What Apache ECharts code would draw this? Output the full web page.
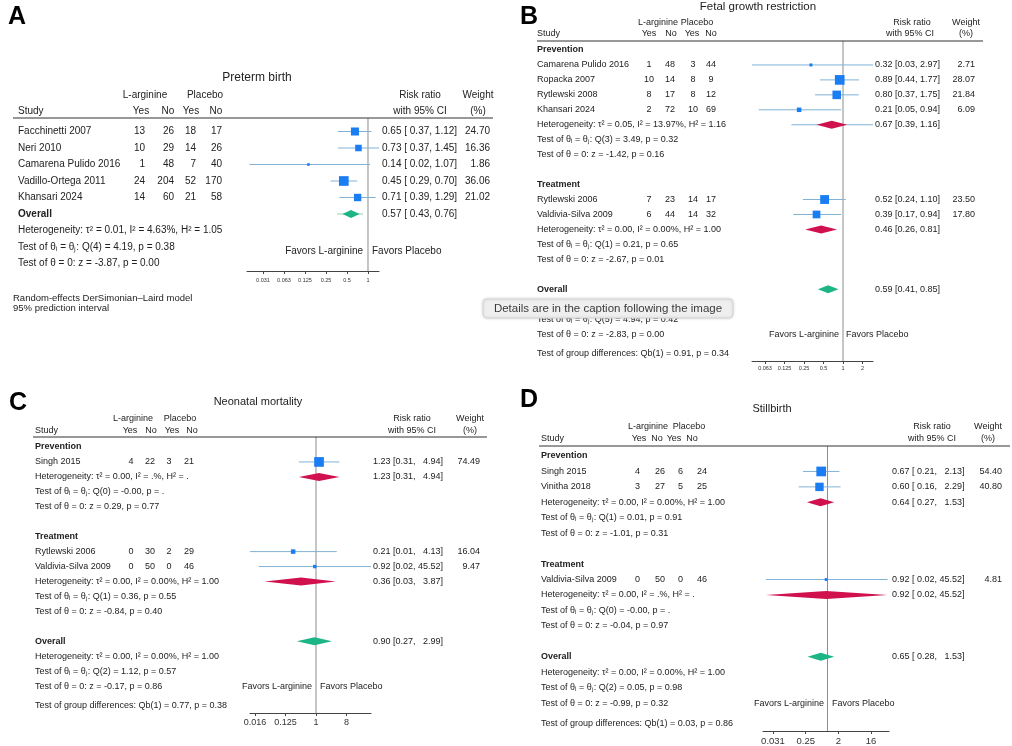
<!DOCTYPE html>
<html><head><meta charset="utf-8">
<script src="https://cdn.jsdelivr.net/npm/echarts/dist/echarts.min.js"></script>
<style>html,body{margin:0;padding:0;background:#fff}#c{width:1012px;height:746px}</style>
</head><body><div id="c"></div><script>
// ---------- Panel A: Preterm birth ----------
const studiesA = ['Facchinetti 2007','Neri 2010','Camarena Pulido 2016','Vadillo-Ortega 2011','Khansari 2024'];
const argYesA = [13,10,1,24,14];
const argNoA  = [26,29,48,204,60];
const plaYesA = [18,14,7,52,21];
const plaNoA  = [17,26,40,170,58];
const rrA = [0.65,0.73,0.14,0.45,0.71];
const loA = [0.37,0.37,0.02,0.29,0.39];
const hiA = [1.12,1.45,1.07,0.70,1.29];
const wA  = [24.70,16.36,1.86,36.06,21.02];
const overallA = [0.57,0.43,0.76];
const overallPiA = [0.36,0.85];
const overallStatsA = ['Heterogeneity: τ² = 0.01, I² = 4.63%, H² = 1.05','Test of θᵢ = θⱼ: Q(4) = 4.19, p = 0.38','Test of θ = 0: z = -3.87, p = 0.00'];
const tickValsA = [0.03125,0.0625,0.125,0.25,0.5,1];
const tickLabsA = ['0.031','0.063','0.125','0.25','0.5','1'];

// ---------- Panel B: Fetal growth restriction ----------
const groupNames = ['Prevention','Treatment'];
const studiesB = ['Camarena Pulido 2016','Ropacka 2007','Rytlewski 2008','Khansari 2024','Rytlewski 2006','Valdivia-Silva 2009'];
const groupB  = [0,0,0,0,1,1];
const argYesB = [1,10,8,2,7,6];
const argNoB  = [48,14,17,72,23,44];
const plaYesB = [3,8,8,10,14,14];
const plaNoB  = [44,9,12,69,17,32];
const rrB = [0.32,0.89,0.80,0.21,0.52,0.39];
const loB = [0.03,0.44,0.37,0.05,0.24,0.17];
const hiB = [2.97,1.77,1.75,0.94,1.10,0.94];
const wB  = [2.71,28.07,21.84,6.09,23.50,17.80];
const subRrB = [0.67,0.46];
const subLoB = [0.39,0.26];
const subHiB = [1.16,0.81];
const subPiLoB = [0.16,null];
const subPiHiB = [3.2,null];
const subHetB = ['Heterogeneity: τ² = 0.05, I² = 13.97%, H² = 1.16','Heterogeneity: τ² = 0.00, I² = 0.00%, H² = 1.00'];
const subQB = ['Test of θᵢ = θⱼ: Q(3) = 3.49, p = 0.32','Test of θᵢ = θⱼ: Q(1) = 0.21, p = 0.65'];
const subZB = ['Test of θ = 0: z = -1.42, p = 0.16','Test of θ = 0: z = -2.67, p = 0.01'];
const overallB = [0.59,0.41,0.85];
const overallStatsB = ['Heterogeneity: τ² = 0.00, I² = 0.00%, H² = 1.00','Test of θᵢ = θⱼ: Q(5) = 4.94, p = 0.42','Test of θ = 0: z = -2.83, p = 0.00'];
const groupTestB = 'Test of group differences: Qb(1) = 0.91, p = 0.34';
const tickValsB = [0.0625,0.125,0.25,0.5,1,2];
const tickLabsB = ['0.063','0.125','0.25','0.5','1','2'];

// ---------- Panel C: Neonatal mortality ----------
const studiesC = ['Singh 2015','Rytlewski 2006','Valdivia-Silva 2009'];
const groupC  = [0,1,1];
const argYesC = [4,0,0];
const argNoC  = [22,30,50];
const plaYesC = [3,2,0];
const plaNoC  = [21,29,46];
const rrC = [1.23,0.21,0.92];
const loC = [0.31,0.01,0.02];
const hiC = [4.94,4.13,45.52];
const wC  = [74.49,16.04,9.47];
const subRrC = [1.23,0.36];
const subLoC = [0.31,0.03];
const subHiC = [4.94,3.87];
const subHetC = ['Heterogeneity: τ² = 0.00, I² = .%, H² = .','Heterogeneity: τ² = 0.00, I² = 0.00%, H² = 1.00'];
const subQC = ['Test of θᵢ = θⱼ: Q(0) = -0.00, p = .','Test of θᵢ = θⱼ: Q(1) = 0.36, p = 0.55'];
const subZC = ['Test of θ = 0: z = 0.29, p = 0.77','Test of θ = 0: z = -0.84, p = 0.40'];
const overallC = [0.90,0.27,2.99];
const overallStatsC = ['Heterogeneity: τ² = 0.00, I² = 0.00%, H² = 1.00','Test of θᵢ = θⱼ: Q(2) = 1.12, p = 0.57','Test of θ = 0: z = -0.17, p = 0.86'];
const groupTestC = 'Test of group differences: Qb(1) = 0.77, p = 0.38';
const tickValsC = [0.015625,0.125,1,8];
const tickLabsC = ['0.016','0.125','1','8'];

// ---------- Panel D: Stillbirth ----------
const studiesD = ['Singh 2015','Vinitha 2018','Valdivia-Silva 2009'];
const groupD  = [0,0,1];
const argYesD = [4,3,0];
const argNoD  = [26,27,50];
const plaYesD = [6,5,0];
const plaNoD  = [24,25,46];
const rrD = [0.67,0.60,0.92];
const loD = [0.21,0.16,0.02];
const hiD = [2.13,2.29,45.52];
const wD  = [54.40,40.80,4.81];
const subRrD = [0.64,0.92];
const subLoD = [0.27,0.02];
const subHiD = [1.53,45.52];
const subHetD = ['Heterogeneity: τ² = 0.00, I² = 0.00%, H² = 1.00','Heterogeneity: τ² = 0.00, I² = .%, H² = .'];
const subQD = ['Test of θᵢ = θⱼ: Q(1) = 0.01, p = 0.91','Test of θᵢ = θⱼ: Q(0) = -0.00, p = .'];
const subZD = ['Test of θ = 0: z = -1.01, p = 0.31','Test of θ = 0: z = -0.04, p = 0.97'];
const overallD = [0.65,0.28,1.53];
const overallStatsD = ['Heterogeneity: τ² = 0.00, I² = 0.00%, H² = 1.00','Test of θᵢ = θⱼ: Q(2) = 0.05, p = 0.98','Test of θ = 0: z = -0.99, p = 0.32'];
const groupTestD = 'Test of group differences: Qb(1) = 0.03, p = 0.86';
const tickValsD = [0.03125,0.25,2,16];
const tickLabsD = ['0.031','0.25','2','16'];

// ---------- styling ----------
const FONT = '"Liberation Sans", Arial, Helvetica, sans-serif';
const TXT = '#222', CI = '#80b2d6', SQ = '#1a7ef2', RED = '#d0114e', GRN = '#1db586', PIG = '#8fd1ad', REF = '#8c8c8c', AX = '#444';

function f2(v){ return v.toFixed(2); }
function pad5(s){ return s.length < 5 ? '\u2007' + s : s; }
const fmtA = (e,l,h) => `${f2(e)} [ ${f2(l)}, ${f2(h)}]`;
const fmtB = (e,l,h) => `${f2(e)} [${f2(l)}, ${f2(h)}]`;
const fmtC = (e,l,h) => `${f2(e)} [${f2(l)}, ${pad5(f2(h))}]`;
const fmtD = (e,l,h) => `${f2(e)} [ ${f2(l)}, ${pad5(f2(h))}]`;

function build(p) {
  const T = [], M = [];
  const maxW = Math.max(...p.w);
  const add = (row, x, t, align, bold) => T.push({row, x, t, align: align || 'left', bold: !!bold, size: p.fs});
  const addStudy = (i, row) => {
    add(row, p.cx.study, p.studies[i]);
    add(row, p.cx.c1, String(p.ay[i]), p.cAlign);
    add(row, p.cx.c2, String(p.an[i]), p.cAlign);
    add(row, p.cx.c3, String(p.py[i]), p.cAlign);
    add(row, p.cx.c4, String(p.pn[i]), p.cAlign);
    add(row, p.cx.rr, p.fmt(p.rr[i], p.lo[i], p.hi[i]));
    add(row, p.cx.w, f2(p.w[i]), 'right');
    M.push({kind: 'study', row, est: p.rr[i], lo: p.lo[i], hi: p.hi[i], size: Math.max(2.6, 9.7 * Math.sqrt(p.w[i] / maxW))});
  };
  const addStats = (row, arr) => arr.forEach((s, k) => add(row + k, p.cx.study, s));
  let r = 0;
  if (p.groupNames) {
    p.groupNames.forEach((g, gi) => {
      add(r, p.cx.study, g, 'left', true); r++;
      p.studies.forEach((s, i) => { if (p.group[i] === gi) { addStudy(i, r); r++; } });
      M.push({kind: 'dia', row: r, est: p.subRr[gi], lo: p.subLo[gi], hi: p.subHi[gi], color: RED,
              pilo: p.subPiLo ? p.subPiLo[gi] : null, pihi: p.subPiHi ? p.subPiHi[gi] : null, pic: CI});
      add(r, p.cx.rr, p.fmt(p.subRr[gi], p.subLo[gi], p.subHi[gi]));
      addStats(r, [p.subHet[gi], p.subQ[gi], p.subZ[gi]]);
      r += 4;
    });
  } else {
    p.studies.forEach((s, i) => { addStudy(i, r); r++; });
  }
  add(r, p.cx.study, 'Overall', 'left', true);
  M.push({kind: 'dia', row: r, est: p.ov[0], lo: p.ov[1], hi: p.ov[2], color: GRN,
          pilo: p.ovPi ? p.ovPi[0] : null, pihi: p.ovPi ? p.ovPi[1] : null, pic: PIG});
  add(r, p.cx.rr, p.fmt(p.ov[0], p.ov[1], p.ov[2]));
  r++;
  addStats(r, p.ovStats);
  const zRow = r + 2;
  if (p.groupTest) add(zRow + 1.33, p.cx.study, p.groupTest);
  const fr = p.favorsRow != null ? p.favorsRow : zRow;
  add(fr, p.cx.favL, 'Favors L-arginine', 'right');
  add(fr, p.cx.favR, 'Favors Placebo', 'left');
  return {T, M};
}

const panels = [
  build({studies: studiesA, ay: argYesA, an: argNoA, py: plaYesA, pn: plaNoA, rr: rrA, lo: loA, hi: hiA, w: wA,
    ov: overallA, ovPi: overallPiA, ovStats: overallStatsA, fmt: fmtA, fs: 10, cAlign: 'right', favorsRow: 7.25,
    cx: {study: 18, c1: 145, c2: 174, c3: 196, c4: 222, rr: 382, w: 490, favL: 363, favR: 372}}),
  build({studies: studiesB, group: groupB, groupNames, ay: argYesB, an: argNoB, py: plaYesB, pn: plaNoB, rr: rrB, lo: loB, hi: hiB, w: wB,
    subRr: subRrB, subLo: subLoB, subHi: subHiB, subPiLo: subPiLoB, subPiHi: subPiHiB, subHet: subHetB, subQ: subQB, subZ: subZB,
    ov: overallB, ovStats: overallStatsB, groupTest: groupTestB, fmt: fmtB, fs: 9, cAlign: 'center',
    cx: {study: 537, c1: 649, c2: 670, c3: 693, c4: 711, rr: 875, w: 975, favL: 839, favR: 846}}),
  build({studies: studiesC, group: groupC, groupNames, ay: argYesC, an: argNoC, py: plaYesC, pn: plaNoC, rr: rrC, lo: loC, hi: hiC, w: wC,
    subRr: subRrC, subLo: subLoC, subHi: subHiC, subHet: subHetC, subQ: subQC, subZ: subZC,
    ov: overallC, ovStats: overallStatsC, groupTest: groupTestC, fmt: fmtC, fs: 9, cAlign: 'center',
    cx: {study: 35, c1: 131, c2: 150, c3: 169, c4: 189, rr: 373, w: 480, favL: 312, favR: 320}}),
  build({studies: studiesD, group: groupD, groupNames, ay: argYesD, an: argNoD, py: plaYesD, pn: plaNoD, rr: rrD, lo: loD, hi: hiD, w: wD,
    subRr: subRrD, subLo: subLoD, subHi: subHiD, subHet: subHetD, subQ: subQD, subZ: subZD,
    ov: overallD, ovStats: overallStatsD, groupTest: groupTestD, fmt: fmtD, fs: 9, cAlign: 'right',
    cx: {study: 541, c1: 640, c2: 665, c3: 683, c4: 707, rr: 892, w: 1002, favL: 824, favR: 832}})
];

const geo = [
  {left: 247, top: 118, width: 132, height: 153, xmin: -5.762, xmax: 0.524, ymin: -0.818, ymax: 8.455, ticks: tickValsA, labs: tickLabsA, tfs: 5.5, margin: 6},
  {left: 752, top: 41,  width: 121, height: 320, xmin: -4.667, xmax: 1.538, ymin: -0.602, ymax: 20.80, ticks: tickValsB, labs: tickLabsB, tfs: 5.5, margin: 4},
  {left: 250, top: 437, width: 121, height: 276, xmin: -6.502, xmax: 5.419, ymin: -0.669, ymax: 17.80, ticks: tickValsC, labs: tickLabsC, tfs: 9, margin: 5},
  {left: 763, top: 446, width: 126, height: 285, xmin: -5.917, xmax: 5.642, ymin: -0.648, ymax: 17.81, ticks: tickValsD, labs: tickLabsD, tfs: 9.5, margin: 5}
];

const grids = [], xAxes = [], yAxes = [], series = [];
geo.forEach((g, i) => {
  grids.push({left: g.left, top: g.top, width: g.width, height: g.height, containLabel: false, outerBoundsMode: 'none', show: false});
  const tv = g.ticks.map(Math.log2);
  xAxes.push({gridIndex: i, type: 'value', min: g.xmin, max: g.xmax, position: 'bottom',
    axisLine: {show: true, onZero: false, lineStyle: {color: AX, width: 1}},
    axisTick: {show: true, customValues: tv, length: 3, lineStyle: {color: AX}},
    axisLabel: {show: true, customValues: tv, margin: g.margin, fontSize: g.tfs, color: '#333', fontFamily: FONT,
      formatter: v => { const k = tv.findIndex(t => Math.abs(t - v) < 1e-9); return k >= 0 ? g.labs[k] : ''; }},
    splitLine: {show: false}});
  yAxes.push({gridIndex: i, type: 'value', inverse: true, min: g.ymin, max: g.ymax, show: false});
  // reference line at RR = 1
  series.push({type: 'line', xAxisIndex: i, yAxisIndex: i, data: [[0, g.ymin], [0, g.ymax]], symbol: 'none', silent: true, z: 2,
    lineStyle: {color: REF, width: 1}});
  const P = panels[i];
  // markers
  series.push({type: 'custom', xAxisIndex: i, yAxisIndex: i, clip: true, silent: true, z: 4,
    data: P.M.map(m => [Math.log2(m.est), m.row, Math.log2(m.lo), Math.log2(m.hi)]),
    encode: {x: [0, 2, 3], y: 1},
    renderItem: (params, api) => {
      const m = P.M[params.dataIndex];
      const c = api.coord([api.value(0), api.value(1)]);
      const cl = api.coord([api.value(2), api.value(1)]);
      const ch = api.coord([api.value(3), api.value(1)]);
      const ch2 = [];
      if (m.kind === 'study') {
        ch2.push({type: 'line', shape: {x1: cl[0], y1: c[1], x2: ch[0], y2: c[1]}, style: {stroke: CI, lineWidth: 1}});
        const s = m.size;
        ch2.push({type: 'rect', shape: {x: c[0] - s / 2, y: c[1] - s / 2, width: s, height: s}, style: {fill: SQ}});
      } else {
        if (m.pilo != null) {
          const a = api.coord([Math.log2(m.pilo), m.row]), b = api.coord([Math.log2(m.pihi), m.row]);
          ch2.push({type: 'line', shape: {x1: a[0], y1: c[1], x2: b[0], y2: c[1]}, style: {stroke: m.pic, lineWidth: 1}});
        }
        const h = 4;
        ch2.push({type: 'polygon', shape: {points: [[cl[0], c[1]], [c[0], c[1] - h], [ch[0], c[1]], [c[0], c[1] + h]]}, style: {fill: m.color}});
      }
      return {type: 'group', children: ch2};
    }});
  // table text
  series.push({type: 'custom', xAxisIndex: i, yAxisIndex: i, clip: false, silent: true, z: 5,
    data: P.T.map(t => [0, t.row]),
    encode: {x: 0, y: 1},
    renderItem: (params, api) => {
      const t = P.T[params.dataIndex];
      const y = api.coord([0, api.value(1)])[1];
      return {type: 'text', x: t.x, y: y, style: {text: t.t, align: t.align, verticalAlign: 'middle', fill: TXT,
        font: (t.bold ? 'bold ' : '') + t.size + 'px ' + FONT}};
    }});
});

// static header / labels
const G = [];
function ht(x, y, text, align, size, bold, color) {
  G.push({type: 'text', x, y, z: 10, silent: true, style: {text, align: align || 'left', verticalAlign: 'middle',
    fill: color || TXT, font: (bold ? 'bold ' : '') + size + 'px ' + FONT}});
}
function hr(x1, x2, y) {
  G.push({type: 'line', silent: true, z: 10, shape: {x1, y1: y, x2, y2: y}, style: {stroke: '#333', lineWidth: 1.2}});
}
// Panel letters
ht(8, 17, 'A', 'left', 25, true, '#000');
ht(520, 17.5, 'B', 'left', 25, true, '#000');
ht(9, 403.5, 'C', 'left', 25, true, '#000');
ht(520, 400, 'D', 'left', 25, true, '#000');
// Titles
ht(257, 78, 'Preterm birth', 'center', 12);
ht(758, 6.5, 'Fetal growth restriction', 'center', 11.5);
ht(258, 402, 'Neonatal mortality', 'center', 11);
ht(772, 409, 'Stillbirth', 'center', 11);
// Headers A
ht(145, 95, 'L-arginine', 'center', 10); ht(205, 95, 'Placebo', 'center', 10);
ht(420, 95, 'Risk ratio', 'center', 10); ht(478, 95, 'Weight', 'center', 10);
ht(18, 111, 'Study', 'left', 10); ht(141, 111, 'Yes', 'center', 10); ht(168, 111, 'No', 'center', 10);
ht(191, 111, 'Yes', 'center', 10); ht(216, 111, 'No', 'center', 10);
ht(420, 111, 'with 95% CI', 'center', 10); ht(478, 111, '(%)', 'center', 10);
hr(13, 493, 118);
ht(13, 298, 'Random-effects DerSimonian–Laird model', 'left', 9.5);
ht(13, 308, '95% prediction interval', 'left', 9.5);
// Headers B
ht(658, 23, 'L-arginine', 'center', 9); ht(697, 23, 'Placebo', 'center', 9);
ht(912, 23, 'Risk ratio', 'center', 9); ht(966, 23, 'Weight', 'center', 9);
ht(537, 34, 'Study', 'left', 9); ht(649, 34, 'Yes', 'center', 9); ht(671, 34, 'No', 'center', 9);
ht(692, 34, 'Yes', 'center', 9); ht(711, 34, 'No', 'center', 9);
ht(910, 34, 'with 95% CI', 'center', 9); ht(966, 34, '(%)', 'center', 9);
hr(537, 983, 41);
// Headers C
ht(133, 419, 'L-arginine', 'center', 9); ht(180, 419, 'Placebo', 'center', 9);
ht(412, 419, 'Risk ratio', 'center', 9); ht(470, 419, 'Weight', 'center', 9);
ht(35, 431, 'Study', 'left', 9); ht(130, 431, 'Yes', 'center', 9); ht(151, 431, 'No', 'center', 9);
ht(172, 431, 'Yes', 'center', 9); ht(192, 431, 'No', 'center', 9);
ht(412, 431, 'with 95% CI', 'center', 9); ht(470, 431, '(%)', 'center', 9);
hr(33, 487, 437);
// Headers D
ht(648, 427, 'L-arginine', 'center', 9); ht(689, 427, 'Placebo', 'center', 9);
ht(932, 427, 'Risk ratio', 'center', 9); ht(988, 427, 'Weight', 'center', 9);
ht(541, 439, 'Study', 'left', 9); ht(639, 439, 'Yes', 'center', 9); ht(657, 439, 'No', 'center', 9);
ht(674, 439, 'Yes', 'center', 9); ht(692, 439, 'No', 'center', 9);
ht(932, 439, 'with 95% CI', 'center', 9); ht(988, 439, '(%)', 'center', 9);
hr(539, 1010, 446);
// Tooltip overlay seen in the reference
G.push({type: 'rect', z: 20, silent: true, shape: {x: 483, y: 299, width: 250, height: 19, r: 4},
  style: {fill: '#efefef', stroke: '#d4d4d4', lineWidth: 1, shadowBlur: 3, shadowColor: 'rgba(0,0,0,0.15)'}});
G.push({type: 'text', z: 21, silent: true, x: 608, y: 308.5, style: {text: 'Details are in the caption following the image',
  align: 'center', verticalAlign: 'middle', fill: '#3a3a3a', font: '11.5px ' + FONT}});

const chart = echarts.init(document.getElementById('c'), null, {renderer: 'canvas'});
chart.setOption({
  animation: false,
  backgroundColor: '#fff',
  grid: grids, xAxis: xAxes, yAxis: yAxes, series: series,
  graphic: {elements: G}
});
</script></body></html>
